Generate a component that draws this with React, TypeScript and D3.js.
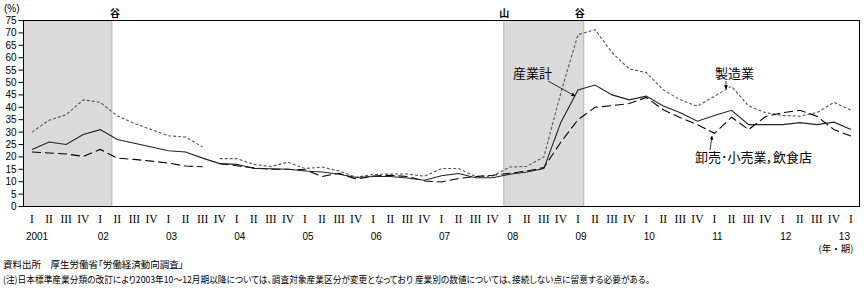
import React from "react";
import * as d3 from "d3";

const W = 866;
const H = 291;

// ---------- data ----------
const quarterNames = ["I", "II", "III", "IV"];
const yearLabels = ["2001", "02", "03", "04", "05", "06", "07", "08", "09", "10", "11", "12", "13"];
const yTicks = [0, 5, 10, 15, 20, 25, 30, 35, 40, 45, 50, 55, 60, 65, 70, 75];

// 産業計 (2001 I .. 2013 I)
const totalIndustry = [
  23, 26, 25, 29, 31, 27, 25.5, 24, 22.5, 22, 19.5, 17.3, 17, 15.3, 15.2, 15,
  14.3, 13.9, 13, 11.7, 12.1, 12.1, 11.5, 10.6, 12.4, 13.3, 11.6, 11.6, 13, 13.9, 15.3, 34,
  47, 49, 45, 43, 44.5, 40.5, 37.8, 34.4, 36.7, 38.8, 33, 33, 33, 33.8, 33, 34, 31,
];
// 製造業: old classification (2001 I .. 2003 III), new (2003 IV .. 2013 I)
const manufacturingOld = [30, 34.8, 37, 43, 42, 36.5, 33.5, 31, 28.5, 28, 24];
const manufacturingNew = [
  19.3, 19.3, 17, 16.1, 17.9, 15.3, 15.9, 14.3, 11.8, 12.9, 13.1, 13.1, 12.2, 15.3, 15.3, 12.1,
  12.3, 15.9, 16.2, 20, 46, 69.3, 71.3, 62, 55.5, 54, 47, 43, 40.4, 44.5, 48.5, 40.5,
  37.8, 36.7, 36.4, 37.8, 42, 38.8,
];
// 卸売・小売業，飲食店
const retailOld = [22, 21.6, 21.2, 20.2, 23, 19.5, 19, 18.3, 17.5, 16.3, 16];
const retailNew = [
  17.3, 16.4, 15.6, 15, 15, 14.8, 12.1, 13.4, 11, 12.3, 12.6, 12.1, 10.3, 9.9, 11.3, 12.1,
  12.6, 13.4, 14.3, 15.7, 26, 35, 40, 40.7, 41.5, 44, 39, 35.8, 33, 29.5, 36, 31,
  36.3, 37.8, 38.8, 36.4, 31, 28.4,
];
const newSeriesStart = 11; // 2003 IV

// recession shading in quarter-index units
const recessionStarts = [-0.5, 27.65];
const recessionEnds = [4.68, 32.34];
const recessionStartLabels = ["", "山"];
const recessionEndLabels = ["谷", "谷"];

const JP = "'Noto Sans CJK JP', sans-serif";
const NUM = "'Liberation Sans', Arial, sans-serif";

export default function App() {
  const nQ = totalIndustry.length;
  const x = d3.scaleLinear().domain([-0.5, nQ - 0.5]).range([23.5, 859.5]);
  const y = d3.scaleLinear().domain([0, 75]).range([206.5, 20.5]);

  const line = d3
    .line<[number, number]>()
    .x((d) => x(d[0]))
    .y((d) => y(d[1]));

  const pts = (arr: number[], off: number) => arr.map((v, i) => [i + off, v] as [number, number]);

  const left = x(-0.5);
  const right = x(nQ - 0.5);
  const top = y(75);
  const bottom = y(0);

  return (
    <svg width={W} height={H} style={{ position: "absolute", left: 0, top: 0, background: "#fff" }}>
      <defs>
        <marker id="arr" viewBox="0 0 6 6" refX="5.5" refY="3" markerWidth="5" markerHeight="5" orient="auto">
          <path d="M0,0 L6,3 L0,6 z" fill="#000" />
        </marker>
      </defs>

      {/* recession shading */}
      {recessionStarts.map((s, k) => (
        <g key={"r" + k}>
          <rect x={x(s)} y={top} width={x(recessionEnds[k]) - x(s)} height={bottom - top} fill="#dadada" />
          <line x1={x(s)} x2={x(s)} y1={top} y2={bottom} stroke="#b4b4b4" />
          <line x1={x(recessionEnds[k])} x2={x(recessionEnds[k])} y1={top} y2={bottom} stroke="#b4b4b4" />
          {recessionStartLabels[k] && (
            <text x={x(s) + 0.5} y={17} fontSize={10} fontFamily={JP} textAnchor="middle" fontWeight="bold">
              {recessionStartLabels[k]}
            </text>
          )}
          <text x={x(recessionEnds[k]) + (k === 0 ? 3 : -4)} y={17} fontSize={10} fontFamily={JP} textAnchor="middle" fontWeight="bold">
            {recessionEndLabels[k]}
          </text>
        </g>
      ))}

      {/* frame */}
      <rect x={left} y={top} width={right - left} height={bottom - top} fill="none" stroke="#000" strokeWidth={1} />

      {/* y ticks */}
      {yTicks.map((t) => (
        <g key={"y" + t}>
          <line x1={left - 5} x2={left} y1={y(t)} y2={y(t)} stroke="#000" />
          <text x={left - 7} y={y(t)} dy="0.35em" fontSize={10} fontFamily={NUM} textAnchor="end">
            {t}
          </text>
        </g>
      ))}
      <text x={4} y={12} fontSize={10} fontFamily={NUM}>(%)</text>

      {/* x labels */}
      {totalIndustry.map((_, i) => (
        <text key={"q" + i} x={x(i)} y={223} fontSize={11.5} fontFamily="'Liberation Serif', serif" textAnchor="middle">
          {quarterNames[i % 4]}
        </text>
      ))}
      {yearLabels.map((lab, k) => {
        const last = k === yearLabels.length - 1;
        return (
          <text
            key={"yr" + k}
            x={last ? x(k * 4) - 1 : x(k * 4) + (k === 0 ? 5 : 3)}
            y={240}
            fontSize={10}
            fontFamily={NUM}
            textAnchor={last ? "end" : "middle"}
          >
            {lab}
          </text>
        );
      })}
      <text x={right - 6} y={252} fontSize={9.5} fontFamily={JP} textAnchor="end">(年・期)</text>

      {/* series */}
      <path d={line(pts(manufacturingOld, 0)) || ""} fill="none" stroke="#555" strokeWidth={1.1} strokeDasharray="3,2" />
      <path d={line(pts(manufacturingNew, newSeriesStart)) || ""} fill="none" stroke="#555" strokeWidth={1.1} strokeDasharray="3,2" />
      <path d={line(pts(retailOld, 0)) || ""} fill="none" stroke="#000" strokeWidth={1.1} strokeDasharray="9,4" />
      <path d={line(pts(retailNew, newSeriesStart)) || ""} fill="none" stroke="#000" strokeWidth={1.1} strokeDasharray="9,4" />
      <path d={line(pts(totalIndustry, 0)) || ""} fill="none" stroke="#222" strokeWidth={1.1} />

      {/* annotations */}
      <text x={513} y={78} fontSize={13} fontFamily={JP} style={{ fontFeatureSettings: '"palt"' }}>産業計</text>
      <line x1={548} y1={81} x2={575} y2={96} stroke="#000" strokeWidth={0.8} markerEnd="url(#arr)" />
      <text x={715} y={78} fontSize={13} fontFamily={JP} style={{ fontFeatureSettings: '"palt"' }}>製造業</text>
      <line x1={726} y1={81} x2={726} y2={89} stroke="#000" strokeWidth={0.8} markerEnd="url(#arr)" />
      <text x={695} y={162} fontSize={13} fontFamily={JP} style={{ fontFeatureSettings: '"palt"' }}>卸売･小売業，飲食店</text>
      <line x1={710} y1={150} x2={712} y2={136} stroke="#000" strokeWidth={0.8} markerEnd="url(#arr)" />

      {/* footer */}
      <text x={3} y={268} fontSize={9.5} fontFamily={JP} style={{ fontFeatureSettings: '"palt"' }}>
        資料出所　厚生労働省「労働経済動向調査」
      </text>
      <text
        x={3}
        y={283}
        fontSize={9.5}
        fontFamily={JP}
        textLength={647}
        lengthAdjust="spacingAndGlyphs"
        style={{ fontFeatureSettings: '"palt"' }}
      >
        (注)日本標準産業分類の改訂により2003年10～12月期以降については、調査対象産業区分が変更となっており 産業別の数値については、接続しない点に留意する必要がある。
      </text>
    </svg>
  );
}
